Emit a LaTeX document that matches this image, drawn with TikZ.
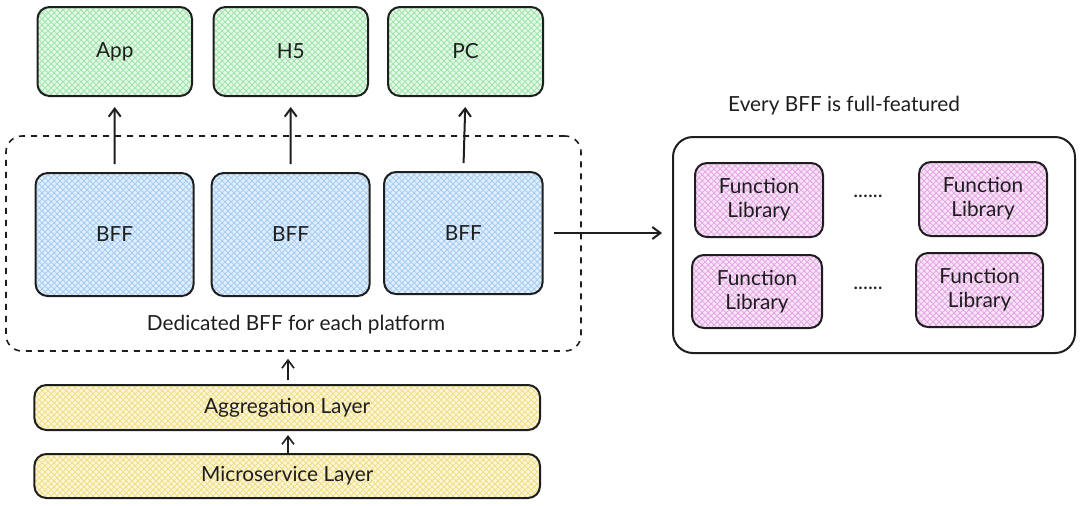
\documentclass[tikz,border=0pt]{standalone}
\usepackage{fontspec}
\setmainfont{Lato}
\usetikzlibrary{arrows.meta,patterns,fit}
\definecolor{ink}{HTML}{1E1E1E}
\definecolor{gfill}{HTML}{E6F8E9}
\definecolor{ghatch}{HTML}{9EE6AA}
\definecolor{bfill}{HTML}{E3EFFC}
\definecolor{bhatch}{HTML}{A5CDF5}
\definecolor{yfill}{HTML}{FCF6DA}
\definecolor{yhatch}{HTML}{F2DE86}
\definecolor{pfill}{HTML}{F8E6F8}
\definecolor{phatch}{HTML}{E5A8E5}
\tikzset{
  base/.style={draw=ink, line width=1pt, rounded corners=6pt, inner sep=0pt, font=\fontsize{10.4}{12}\selectfont, text=ink, align=center},
  gbox/.style={base, preaction={fill=gfill}, pattern=crosshatch, pattern color=ghatch},
  bbox/.style={base, preaction={fill=bfill}, pattern=crosshatch, pattern color=bhatch},
  ybox/.style={base, preaction={fill=yfill}, pattern=crosshatch, pattern color=yhatch},
  pbox/.style={base, preaction={fill=pfill}, pattern=crosshatch, pattern color=phatch},
  group/.style={draw=ink, line width=0.8pt, rounded corners=8pt, inner sep=0pt},
  lbl/.style={font=\fontsize{10.4}{12}\selectfont, text=ink},
  conn/.style={draw=ink, line width=1pt, -{Straight Barb[length=4pt,width=6pt]}},
}
\begin{document}
\begin{tikzpicture}[x=0.5pt,y=-0.5pt]
\useasboundingbox (0,0) rectangle (1080,505);
% top platforms
\node (app) [gbox, minimum width=77.25pt, minimum height=44.5pt] at (114.75,51.5) {App};
\node (h5)  [gbox, minimum width=77.25pt, minimum height=44.5pt] at (290.75,51.5) {H5};
\node (pc)  [gbox, minimum width=77.5pt, minimum height=44.5pt] at (465.5,51.5) {PC};
% dashed group
\node (grp) [group, dashed, fit={(6,136) (581,351)}] {};
\node (bff1) [bbox, minimum width=79pt, minimum height=61.5pt] at (114.6,234.5) {BFF};
\node (bff2) [bbox, minimum width=79pt, minimum height=61.5pt] at (290.65,234.5) {BFF};
\node (bff3) [bbox, minimum width=79.3pt, minimum height=61pt] at (463.35,233) {BFF};
\node (grplbl) [lbl] at (296,325) {Dedicated BFF for each platform};
% layers
\node (agg) [ybox, minimum width=252.8pt, minimum height=22.5pt] at (287.2,407.5) {Aggregation Layer};
\node (micro) [ybox, minimum width=252.8pt, minimum height=22pt] at (287.2,476) {Microservice Layer};
% right panel
\node (featlbl) [lbl] at (844,106) {Every BFF is full-featured};
\node (outer) [group, line width=1pt, rounded corners=10pt, fit={(673,137) (1075,353)}] {};
\node (fl1) [pbox, minimum width=64pt, minimum height=37pt] at (759,200) {Function\\Library};
\node (fl2) [pbox, minimum width=64pt, minimum height=37pt] at (983,199) {Function\\Library};
\node (fl3) [pbox, minimum width=65pt, minimum height=36.5pt] at (757,291.5) {Function\\Library};
\node (fl4) [pbox, minimum width=63.5pt, minimum height=37pt] at (979.5,290) {Function\\Library};
\node (dots1) [lbl] at (868,196) {......};
\node (dots2) [lbl] at (868,288) {......};
% connectors
\draw[conn, shorten <=4pt, shorten >=5pt] (bff1.north) -- (app.south);
\draw[conn, shorten <=4pt, shorten >=5pt] (bff2.north) -- (h5.south);
\draw[conn, shorten <=4pt, shorten >=5pt] (bff3.north) -- (pc.south);
\draw[conn, shorten <=5pt, shorten >=5pt] (bff3.east) -- (outer.west |- bff3.east);
\draw[conn, line width=0.8pt, shorten <=2pt, shorten >=3.5pt] (agg.north -| 288,0) -- (grp.south -| 288,0);
\draw[conn, line width=0.8pt, shorten >=2pt] (micro.north -| 288,0) -- (agg.south -| 288,0);
\end{tikzpicture}
\end{document}
